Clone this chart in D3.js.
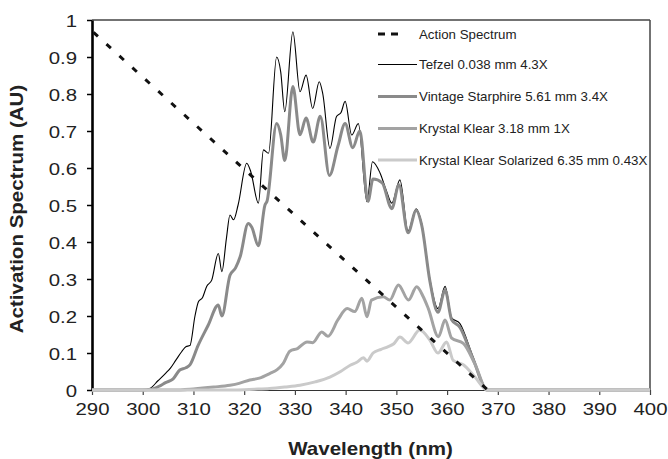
<!DOCTYPE html>
<html><head><meta charset="utf-8">
<script src="https://cdn.jsdelivr.net/npm/d3@7/dist/d3.min.js"></script>
<style>body{margin:0;background:#fff}svg{display:block}</style>
</head><body>
<svg id="chart" width="668" height="459"></svg>
<script>
// ---- data ----
const xTicks = [290,300,310,320,330,340,350,360,370,380,390,400];
const yTicks = [0,0.1,0.2,0.3,0.4,0.5,0.6,0.7,0.8,0.9,1];
const yTickLabels = ["0","0.1","0.2","0.3","0.4","0.5","0.6","0.7","0.8","0.9","1"];

const actionWl = [290, 368];
const actionVal = [0.97, 0];

const tefzelWl = [290,300,301.5,303,304.5,305.5,306.5,307.7,308.5,309.3,310.3,311,311.8,312.6,313.6,314.9,315.6,316.5,317.2,317.9,318.8,320.5,321.3,322.8,323.8,324.8,326.4,327.2,328,329.6,331,332.2,333.5,334.8,335.5,336.9,338.2,339.1,339.9,341.2,342.5,344.2,345.3,346.8,348,349.1,350.7,352.3,353.9,355,356.6,358.2,359.6,360.9,362.5,365.1,367.9,400];
const tefzelVal = [0,0,0.005,0.025,0.045,0.06,0.08,0.104,0.117,0.12,0.2,0.239,0.25,0.28,0.297,0.369,0.32,0.41,0.473,0.46,0.5,0.613,0.59,0.505,0.649,0.64,0.90,0.86,0.752,0.968,0.806,0.851,0.761,0.833,0.8,0.653,0.739,0.75,0.78,0.689,0.72,0.509,0.617,0.586,0.54,0.505,0.568,0.43,0.49,0.45,0.30,0.22,0.28,0.195,0.18,0.09,0,0];

const vintageWl = [290,300,302,303.5,304.5,306,307.3,308.5,309.3,310.9,312.9,314.9,315.6,317.2,318.3,319.2,320.8,321.5,322.8,324.1,324.5,326.4,327.2,328,329.6,331,332.2,333.6,335,336.8,338.5,339.9,341.4,342.8,344.4,345.4,347.2,349.1,350.5,352.3,353.9,355,356.6,358.2,359.6,360.9,362.5,365.1,367.9,400];
const vintageVal = [0,0,0.003,0.012,0.02,0.03,0.054,0.06,0.068,0.12,0.175,0.23,0.20,0.31,0.33,0.36,0.45,0.44,0.39,0.5,0.51,0.72,0.69,0.62,0.82,0.69,0.735,0.67,0.74,0.58,0.66,0.72,0.655,0.70,0.51,0.57,0.56,0.49,0.555,0.425,0.485,0.445,0.295,0.21,0.27,0.19,0.17,0.085,0,0];

const klearWl = [290,306,310,314,317.2,319,321.1,323,325.1,326.5,327.7,329,330.5,332.4,333.5,335.3,336.5,338.5,340.3,341.8,343.2,344.2,345.1,347.4,348.7,350.4,352.4,354,355.3,356.3,358.3,359.6,360.9,363.2,365.5,367.9,400];
const klearVal = [0,0,0.003,0.008,0.013,0.018,0.027,0.032,0.045,0.055,0.072,0.105,0.112,0.13,0.128,0.157,0.145,0.19,0.22,0.212,0.248,0.198,0.243,0.252,0.243,0.284,0.243,0.279,0.252,0.22,0.144,0.189,0.14,0.126,0.07,0,0];

const solarWl = [290,318,322,325,328,331,334,336.9,339,340.9,342.2,343.5,344.2,345.4,347,348.4,349.5,350.7,352.3,354.6,356.6,358.2,359.9,361.2,363.2,365.5,367.9,400];
const solarVal = [0,0,0.002,0.004,0.008,0.013,0.022,0.035,0.05,0.067,0.075,0.087,0.078,0.1,0.11,0.117,0.125,0.143,0.127,0.162,0.135,0.10,0.13,0.08,0.068,0.035,0,0];

const legendLabels = ["Action Spectrum","Tefzel 0.038 mm 4.3X","Vintage Starphire 5.61 mm 3.4X","Krystal Klear 3.18 mm 1X","Krystal Klear Solarized 6.35 mm 0.43X"];

// ---- drawing ----
const svg = d3.select("#chart");
const L = 92, R = 650, T = 20, B = 390;
const x = d3.scaleLinear().domain([290,400]).range([L,R]);
const y = d3.scaleLinear().domain([0,1]).range([B,T]);
const FONT = "'Liberation Sans', Arial, sans-serif";

// frame top/right
svg.append("line").attr("x1",L).attr("x2",R).attr("y1",T).attr("y2",T).attr("stroke","#444").attr("stroke-width",1.5);
svg.append("line").attr("x1",R).attr("x2",R).attr("y1",T).attr("y2",B).attr("stroke","#444").attr("stroke-width",1.5);

// x axis
const gx = svg.append("g").attr("transform",`translate(0,${B})`)
  .call(d3.axisBottom(x).tickValues(xTicks).tickSize(5).tickSizeOuter(0).tickFormat(d3.format("d")));
gx.select(".domain").attr("stroke","#333").attr("stroke-width",1.2);
gx.selectAll(".tick line").attr("stroke","#444").attr("stroke-width",1.2);
gx.selectAll(".tick text").attr("y",25).attr("dy",null).attr("transform","scale(1.2,1)")
  .attr("font-family",FONT).attr("font-size",17).attr("fill","#222");

// y axis
const gy = svg.append("g").attr("transform",`translate(${L},0)`)
  .call(d3.axisLeft(y).tickValues(yTicks).tickSize(5).tickSizeOuter(0).tickFormat((d,i)=>yTickLabels[i]));
gy.select(".domain").attr("stroke","#000").attr("stroke-width",2.6);
gy.selectAll(".tick line").attr("stroke","#000").attr("stroke-width",1.5);
gy.selectAll(".tick text").attr("x",-15/1.2).attr("dy","0.36em").attr("transform","scale(1.2,1)")
  .attr("font-family",FONT).attr("font-size",17).attr("fill","#222");

// series
const line = d3.line().x(d=>x(d[0])).y(d=>y(d[1])).curve(d3.curveMonotoneX);
const zip = (a,b)=>a.map((v,i)=>[v,b[i]]);
const series = [
  {wl:tefzelWl, v:tefzelVal, color:"#000", w:1.1},
  {wl:vintageWl, v:vintageVal, color:"#8a8a8a", w:3},
  {wl:klearWl, v:klearVal, color:"#a3a3a3", w:3},
  {wl:solarWl, v:solarVal, color:"#cacaca", w:3}
];
series.forEach(s=>{
  svg.append("path").attr("d",line(zip(s.wl,s.v))).attr("fill","none")
    .attr("stroke",s.color).attr("stroke-width",s.w).attr("stroke-linejoin","round");
});
svg.append("path").attr("d",d3.line().x(d=>x(d[0])).y(d=>y(d[1]))(zip(actionWl,actionVal)))
  .attr("fill","none").attr("stroke","#111").attr("stroke-width",3)
  .attr("stroke-dasharray","6,11.5").attr("stroke-dashoffset",-2);

// legend
const legY = [34,64.5,96.5,128.5,160];
const legStyles = [
  {color:"#111", w:3, dash:"7,6"},
  {color:"#000", w:1.1, dash:null},
  {color:"#8a8a8a", w:3, dash:null},
  {color:"#a3a3a3", w:3, dash:null},
  {color:"#cacaca", w:3, dash:null}
];
legendLabels.forEach((lab,i)=>{
  const st = legStyles[i];
  const ln = svg.append("line").attr("x1", i===0?378:378).attr("x2", i===0?398:417)
    .attr("y1",legY[i]).attr("y2",legY[i]).attr("stroke",st.color).attr("stroke-width",st.w);
  if (st.dash) ln.attr("stroke-dasharray",st.dash);
  svg.append("text").attr("x",419).attr("y",legY[i]+4.8).text(lab)
    .attr("font-family",FONT).attr("font-size",13.3).attr("fill","#222");
});

// axis titles
svg.append("text").attr("transform","translate(370.5,455) scale(1.14,1)").attr("text-anchor","middle")
  .attr("font-family",FONT).attr("font-weight","bold").attr("font-size",18).attr("fill","#222")
  .text("Wavelength (nm)");
svg.append("text").attr("transform","translate(23,209) rotate(-90) scale(1.14,1)").attr("text-anchor","middle")
  .attr("font-family",FONT).attr("font-weight","bold").attr("font-size",18).attr("fill","#222")
  .text("Activation Spectrum (AU)");
</script>
</body></html>
